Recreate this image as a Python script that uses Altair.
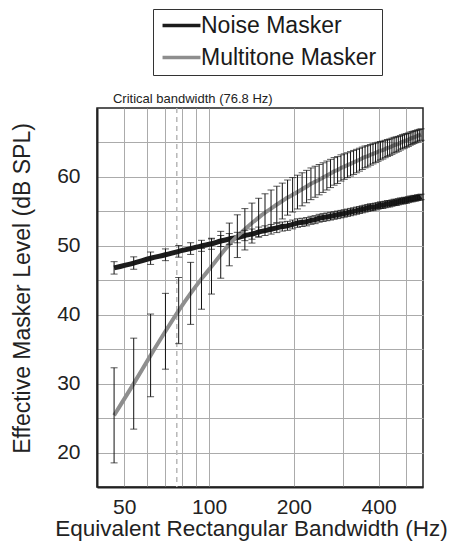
import altair as alt
import pandas as pd

# Equivalent rectangular bandwidth (Hz) of each measured point
erb = [46, 54, 62, 70, 78, 86, 94, 102, 110, 118,
       126, 134, 142, 150, 158, 166, 174, 182, 190, 198,
       206, 214, 222, 230, 238, 246, 254, 262, 270, 278,
       286, 294, 302, 310, 318, 326, 334, 342, 350, 358,
       366, 374, 382, 390, 398, 406, 414, 422, 430, 438,
       446, 454, 462, 470, 478, 486, 494, 502, 510, 518,
       526, 534, 542, 550, 558, 566]

noise_mean = [46.8, 47.5, 48.2, 48.7, 49.2, 49.6, 50.0, 50.3, 50.7, 51.0,
              51.2, 51.5, 51.7, 52.0, 52.2, 52.4, 52.6, 52.8, 52.9, 53.1,
              53.3, 53.4, 53.5, 53.7, 53.8, 54.0, 54.1, 54.2, 54.3, 54.4,
              54.5, 54.6, 54.7, 54.8, 54.9, 55.0, 55.1, 55.2, 55.3, 55.4,
              55.5, 55.6, 55.6, 55.7, 55.8, 55.9, 55.9, 56.0, 56.1, 56.1,
              56.2, 56.3, 56.3, 56.4, 56.5, 56.5, 56.6, 56.6, 56.7, 56.8,
              56.8, 56.9, 56.9, 57.0, 57.0, 57.1]

noise_err = [0.9, 0.9, 0.9, 0.85, 0.85, 0.85, 0.8, 0.8,
             0.8, 0.78, 0.76, 0.75, 0.74, 0.72, 0.7, 0.7, 0.68, 0.66, 0.65, 0.64,
             0.62, 0.6, 0.6, 0.58,
             0.58, 0.57, 0.57, 0.56, 0.56, 0.55, 0.55, 0.54, 0.54, 0.53,
             0.53, 0.52, 0.52, 0.51, 0.51, 0.50, 0.50, 0.50, 0.49, 0.49,
             0.48, 0.48, 0.48, 0.47, 0.47, 0.46, 0.46, 0.46, 0.45, 0.45,
             0.44, 0.44, 0.44, 0.43, 0.43, 0.42, 0.42, 0.42, 0.41, 0.41,
             0.40, 0.40]

multi_mean = [25.4, 30.0, 34.1, 37.6, 40.6, 43.1, 45.2, 47.0, 48.7, 50.2,
              51.4, 52.4, 53.3, 54.1, 54.8, 55.4, 56.0, 56.5, 57.0, 57.4,
              57.8, 58.2, 58.6, 59.0, 59.3, 59.6, 59.9, 60.2, 60.5, 60.8,
              61.0, 61.3, 61.5, 61.7, 61.9, 62.1, 62.3, 62.5, 62.7, 62.9,
              63.0, 63.2, 63.35, 63.5, 63.65, 63.8, 63.9, 64.05, 64.2, 64.3,
              64.45, 64.6, 64.7, 64.8, 64.95, 65.1, 65.2, 65.3, 65.4, 65.55,
              65.65, 65.75, 65.85, 65.95, 66.05, 66.15]

multi_err = [6.9, 6.6, 6.0, 5.5, 4.8, 4.5, 4.4, 4.0, 3.4, 3.1,
             3.1, 3.0, 2.9, 2.8, 2.75, 2.7, 2.65, 2.6, 2.55, 2.5,
             2.45, 2.4, 2.35, 2.3, 2.25, 2.2, 2.15, 2.1, 2.05, 2.0,
             1.95, 1.9, 1.85, 1.8, 1.77, 1.74, 1.7, 1.66, 1.62, 1.58,
             1.54, 1.5, 1.46, 1.42, 1.38, 1.34, 1.3, 1.26, 1.23, 1.2,
             1.17, 1.14, 1.11, 1.08, 1.05, 1.03, 1.01, 0.99, 0.97, 0.95,
             0.93, 0.91, 0.89, 0.87, 0.85, 0.83]

series_names = ["Noise Masker", "Multitone Masker"]
series_colors = ["#1c1c1c", "#8e8e8e"]
critical_bw = [76.8]
critical_label = ["Critical bandwidth (76.8 Hz)"]
x_grid_values = [50, 60, 70, 80, 90, 100, 200, 300, 400, 500]
y_grid_values = [20, 25, 30, 35, 40, 45, 50, 55, 60, 65]

FONT = "Liberation Sans"
Y_TITLE = "Effective Masker Level (dB SPL)"

noise_df = pd.DataFrame({
    "erb": erb, "level": noise_mean,
    "lo": [m - e for m, e in zip(noise_mean, noise_err)],
    "hi": [m + e for m, e in zip(noise_mean, noise_err)],
    "series": series_names[0],
})
multi_df = pd.DataFrame({
    "erb": erb, "level": multi_mean,
    "lo": [m - e for m, e in zip(multi_mean, multi_err)],
    "hi": [m + e for m, e in zip(multi_mean, multi_err)],
    "series": series_names[1],
})
crit_df = pd.DataFrame({"erb": critical_bw, "label": critical_label})

x_scale = alt.Scale(type="log", domain=[40, 575], nice=False)
y_scale = alt.Scale(domain=[15, 70], nice=False, zero=False)

x_axis = alt.Axis(
    values=x_grid_values,
    labelExpr="datum.value == 50 || datum.value == 100 || datum.value == 200 || datum.value == 400 ? datum.label : ''",
    format="d",
    title="Equivalent Rectangular Bandwidth (Hz)",
    ticks=False, labelPadding=9, titlePadding=0, titleX=154, titleFontSize=22.5,
)
y_axis = alt.Axis(
    values=y_grid_values,
    labelExpr="datum.value % 10 == 0 ? datum.label : ''",
    title=Y_TITLE,
    ticks=False, labelPadding=17, titlePadding=22, titleY=180,
)

color = alt.Color(
    "series:N",
    scale=alt.Scale(domain=series_names, range=series_colors),
    legend=alt.Legend(
        title=None, orient="none", legendX=56, legendY=-99,
        direction="vertical", symbolType="M-2.3,0H2.3", symbolSize=272,
        symbolStrokeWidth=3.5, symbolOffset=12, labelOffset=8,
        labelFontSize=23, labelFont=FONT,
        labelColor="#1a1a1a", rowPadding=8, padding=5,
        fillColor="white", strokeColor="#333333", labelLimit=400,
    ),
)

noise_line = alt.Chart(noise_df).mark_line(strokeWidth=5, interpolate="monotone").encode(
    x=alt.X("erb:Q", scale=x_scale, axis=x_axis),
    y=alt.Y("level:Q", scale=y_scale, axis=y_axis),
    color=color,
)
multi_line = alt.Chart(multi_df).mark_line(strokeWidth=4, interpolate="monotone").encode(
    x=alt.X("erb:Q", scale=x_scale, axis=x_axis),
    y=alt.Y("level:Q", scale=y_scale, axis=y_axis),
    color=color,
)

def errbars(df):
    return alt.Chart(df).mark_errorbar(ticks=True, size=7, thickness=1, color="#111111").encode(
        x=alt.X("erb:Q", scale=x_scale, axis=x_axis),
        y=alt.Y("lo:Q", scale=y_scale, axis=y_axis),
        y2="hi:Q",
    )

crit_rule = alt.Chart(crit_df).mark_rule(strokeDash=[5, 4], color="#b8b8b8", strokeWidth=1.5).encode(
    x=alt.X("erb:Q", scale=x_scale, axis=x_axis),
)
crit_text = alt.Chart(crit_df).mark_text(
    fontSize=13, font=FONT, baseline="middle", align="center", color="#222222", dx=16
).encode(
    x=alt.X("erb:Q", scale=x_scale, axis=x_axis),
    y=alt.value(-9),
    text="label:N",
)

chart = alt.layer(
    crit_rule, noise_line, multi_line, errbars(multi_df), errbars(noise_df), crit_text
).properties(
    width=326, height=379,
    autosize=alt.AutoSizeParams(type="none"),
    padding={"left": 89, "top": 100, "right": 30, "bottom": 55},
).configure_view(
    stroke="#222222", strokeWidth=1.5,
).configure_axis(
    grid=True, gridColor="#ababab", gridWidth=1,
    domain=True, domainColor="#222222", domainWidth=2,
    labelFont=FONT, labelFontSize=21, labelColor="#222222",
    titleFont=FONT, titleFontSize=23, titleFontWeight="normal", titleColor="#222222",
)

chart.save("out.html", embed_options={"renderer": "svg", "actions": False})
